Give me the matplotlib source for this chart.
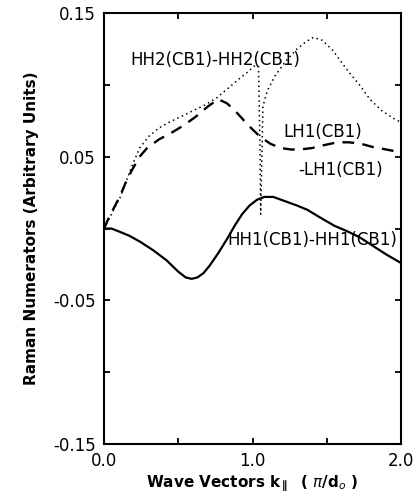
import numpy as np
import matplotlib.pyplot as plt

# HH1(CB1)-HH1(CB1)  (solid)
hh1_k = [0.00, 0.05, 0.10, 0.17, 0.24, 0.33, 0.42, 0.50, 0.55, 0.59, 0.63, 0.67, 0.71,
         0.77, 0.83, 0.88, 0.93, 0.98, 1.03, 1.08, 1.14, 1.22, 1.30, 1.37, 1.45, 1.55,
         1.64, 1.72, 1.81, 1.90, 2.00]
hh1_v = [0.000, 0.000, -0.002, -0.005, -0.009, -0.015, -0.022, -0.030, -0.034, -0.035,
         -0.034, -0.031, -0.026, -0.017, -0.007, 0.002, 0.010, 0.016, 0.020, 0.022,
         0.022, 0.019, 0.016, 0.013, 0.008, 0.002, -0.002, -0.006, -0.012, -0.018,
         -0.024]

# LH1(CB1)-LH1(CB1)  (dashed)
lh1_k = [0.00, 0.03, 0.07, 0.11, 0.15, 0.19, 0.24, 0.29, 0.37, 0.46, 0.54, 0.62, 0.70,
         0.77, 0.83, 0.90, 0.97, 1.05, 1.12, 1.19, 1.26, 1.32, 1.40, 1.48, 1.57, 1.65,
         1.73, 1.80, 1.90, 2.00]
lh1_v = [0.000, 0.007, 0.015, 0.023, 0.033, 0.041, 0.050, 0.056, 0.062, 0.067, 0.072,
         0.078, 0.085, 0.090, 0.087, 0.080, 0.072, 0.064, 0.059, 0.056, 0.055, 0.055,
         0.056, 0.058, 0.060, 0.060, 0.059, 0.057, 0.055, 0.053]

# HH2(CB1)-HH2(CB1)  (dotted)
hh2_k = [0.00, 0.05, 0.11, 0.19, 0.24, 0.30, 0.37, 0.44, 0.52, 0.60, 0.68, 0.76, 0.84,
         0.92, 0.98, 1.01, 1.04, 1.05, 1.055, 1.07, 1.10, 1.15, 1.22, 1.30, 1.36, 1.41,
         1.47, 1.54, 1.64, 1.72, 1.79, 1.87, 1.96, 2.00]
hh2_v = [0.000, 0.010, 0.022, 0.044, 0.056, 0.064, 0.070, 0.074, 0.078, 0.082, 0.086,
         0.091, 0.098, 0.105, 0.110, 0.113, 0.113, 0.060, 0.010, 0.085, 0.096, 0.106,
         0.116, 0.125, 0.130, 0.133, 0.131, 0.124, 0.110, 0.100, 0.090, 0.082, 0.076,
         0.074]

labels = {
    'HH2(CB1)-HH2(CB1)': (0.175, 0.117),
    'LH1(CB1)': (1.205, 0.067),
    '-LH1(CB1)': (1.31, 0.041),
    'HH1(CB1)-HH1(CB1)': (0.83, -0.008),
}

fig = plt.figure(figsize=(4.16, 4.99), dpi=100)
ax = fig.add_axes([0.25, 0.11, 0.714, 0.864])

ax.plot(hh1_k, hh1_v, 'k-', lw=1.6)
ax.plot(lh1_k, lh1_v, 'k', ls=(0, (5, 3.5)), lw=1.7)
ax.plot(hh2_k, hh2_v, 'k', ls=(0, (1, 2.2)), lw=1.1)

for txt, (x, y) in labels.items():
    ax.text(x, y, txt, fontsize=12, va='center', ha='left')

ax.set_xlim(0, 2)
ax.set_ylim(-0.15, 0.15)
ax.set_xticks([0, 0.5, 1.0, 1.5, 2.0])
ax.set_xticklabels(['0.0', '', '1.0', '', '2.0'])
ax.set_yticks([-0.15, -0.10, -0.05, 0.0, 0.05, 0.10, 0.15])
ax.set_yticklabels(['-0.15', '', '-0.05', '', '0.05', '', '0.15'])
ax.tick_params(direction='in', top=True, right=True, length=4, width=1.3,
               labelsize=12, pad=6)
for s in ax.spines.values():
    s.set_linewidth(1.5)

ax.set_ylabel('Raman Numerators (Arbitrary Units)', fontsize=11, fontweight='bold',
              labelpad=10)
ax.set_xlabel(r'Wave Vectors $\mathbf{k_{\parallel}}$  ( $\pi$/d$_o$ )', fontsize=11,
              fontweight='bold', labelpad=2)

fig.savefig('out.png', dpi=100)
